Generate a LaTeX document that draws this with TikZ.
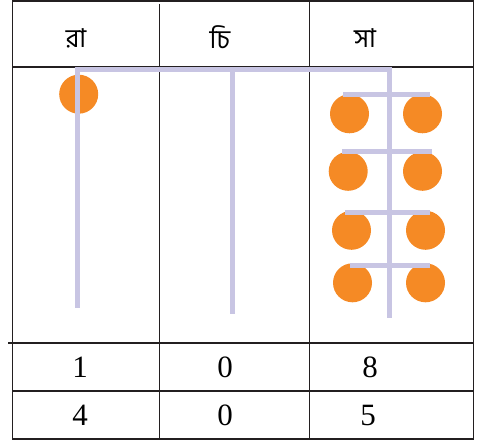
\documentclass[tikz,border=0pt]{standalone}
\usepackage{fontspec}
\setmainfont{Liberation Serif}
\newfontfamily\bnfont[Script=Bengali]{Hind Siliguri}
\definecolor{gridc}{HTML}{231F20}
\definecolor{rodc}{HTML}{C8C5E3}
\definecolor{beadc}{HTML}{F58A25}
\tikzset{
  grid line/.style={draw=gridc, line width=1.8pt},
  rod/.style={draw=rodc, line width=5pt},
  bead/.style={circle, fill=beadc, minimum size=39pt, inner sep=0pt},
  head/.style={font=\bnfont\fontsize{26}{30}\selectfont, inner sep=0pt},
  digit/.style={font=\fontsize{31}{34}\selectfont, inner sep=0pt}
}
\begin{document}
\begin{tikzpicture}[x=1pt,y=-1pt]
\useasboundingbox (0,0) rectangle (481,446);
% table
\draw[grid line] (12.5,1) -- (473.5,1);
\draw[grid line] (12.5,67) -- (473.5,67);
\draw[grid line] (8,343) -- (473.5,343);
\draw[grid line] (12.5,391) -- (473.5,391);
\draw[grid line] (12.5,439) -- (473.5,439);
\draw[grid line] (12.5,0) -- (12.5,440);
\draw[grid line] (159.5,4) -- (159.5,440);
\draw[grid line] (309.5,0) -- (309.5,440);
\draw[grid line] (473.5,0) -- (473.5,440);
% headers
\node[head] (h1) at (76,38) {রা};
\node[head] (h2) at (220,37) {চি};
\node[head] (h3) at (365,38) {সা};
% beads
\node[bead] (b0) at (78.7,94.2) {};
\node[bead] (b1) at (349.5,113.8) {};
\node[bead] (b2) at (422.5,113.8) {};
\node[bead] (b3) at (348.2,171.3) {};
\node[bead] (b4) at (422.5,171.3) {};
\node[bead] (b5) at (351.5,230.3) {};
\node[bead] (b6) at (425.5,230.3) {};
\node[bead] (b7) at (352.5,282.8) {};
\node[bead] (b8) at (425.5,282.8) {};
% rods
\coordinate (tl) at (74.5,69.5);
\coordinate (tr) at (391.5,69.5);
\draw[rod] (tl) -- (tr);
\draw[rod] (77,67) -- (77,308);
\draw[rod] (232.5,69.5) -- (232.5,314);
\draw[rod] (389,67) -- (389,318);
\draw[rod] (343,95) -- (430,95);
\draw[rod] (342,152) -- (432,152);
\draw[rod] (345,212.5) -- (430,212.5);
\draw[rod] (350,265) -- (430,265);
% numbers
\node[digit] (d11) at (80,367) {1};
\node[digit] (d12) at (225,367) {0};
\node[digit] (d13) at (370,367) {8};
\node[digit] (d21) at (80,415) {4};
\node[digit] (d22) at (225,415) {0};
\node[digit] (d23) at (368,415) {5};
\end{tikzpicture}
\end{document}
